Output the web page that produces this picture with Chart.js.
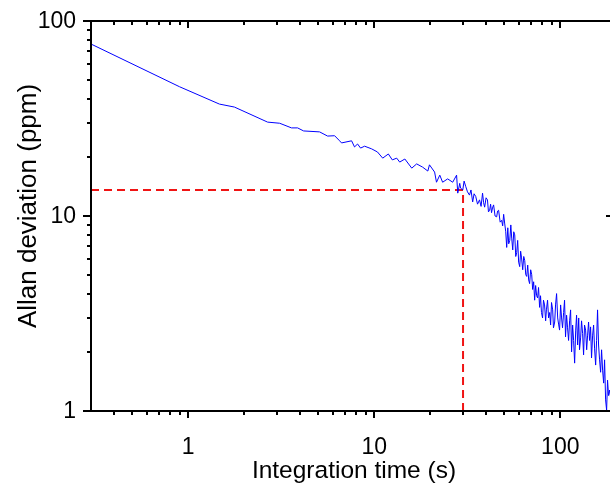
<!DOCTYPE html>
<html>
<head>
<meta charset="utf-8">
<script src="https://cdn.jsdelivr.net/npm/chart.js@4"></script>
<style>
  html, body { margin: 0; padding: 0; background: #fff; overflow: hidden; }
  #wrap { width: 616px; height: 491px; }
</style>
</head>
<body>
<div id="wrap"><canvas id="allan"></canvas></div>
<script>
// --- Data ---
const timeS = [
    0.3, 0.898, 1.47, 1.77, 2.67, 3.10, 3.59, 3.87, 4.17, 5.08,
    5.61, 6.12, 6.51, 6.67, 7.55, 7.83, 8.13, 8.44, 8.87, 9.67,
    10.4, 11.1, 11.9, 12.5, 13.2, 13.7, 14.6, 15.9, 16.9, 18.2,
    19.4, 19.8, 21.1, 21.6, 22.5, 23.3, 24.8, 26.4, 27.7, 28.1,
    28.8, 29.1, 29.9, 30.4, 31.0, 31.7, 32.5, 33.1, 33.8, 34.4,
    35.1, 35.9, 36.8, 37.5, 38.2, 38.7, 39.2, 39.9, 40.6, 41.1,
    41.7, 42.2, 42.7, 43.2, 43.8, 44.6, 45.5, 46.0, 46.6, 47.5,
    48.4, 49.0, 49.6, 50.2, 50.9, 51.5, 52.2, 52.8, 53.5, 54.2,
    54.8, 55.5, 56.2, 56.9, 57.6, 58.3, 59.0, 59.7, 60.5, 61.2,
    61.9, 62.8, 63.6, 64.4, 65.2, 66.0, 66.8, 67.6, 68.4, 69.3,
    70.2, 71.0, 71.9, 72.8, 73.7, 74.6, 75.5, 76.4, 77.4, 78.3,
    79.2, 80.3, 81.2, 82.3, 83.4, 84.2, 85.4, 86.5, 87.7, 88.7,
    89.7, 91.0, 91.9, 93.3, 94.3, 95.5, 96.8, 97.9, 99.1, 100.4,
    101.6, 102.8, 104.2, 105.4, 106.7, 108.1, 109.4, 110.8, 112.2, 113.6,
    115.0, 116.5, 117.9, 119.4, 121.0, 122.3, 123.9, 125.6, 126.9, 128.6,
    130.1, 131.8, 133.4, 135.0, 136.8, 138.6, 140.2, 141.9, 143.6, 145.5,
    147.2, 149.2, 151.0, 152.8, 154.9, 156.7, 158.6, 160.6, 162.6, 164.7,
    166.7, 168.8, 171.0, 173.0, 175.2, 177.4, 179.5, 181.7, 184.1, 188.0,
    192.0
];
const allanPpm = [
    76.2, 46.0, 37.5, 36.2, 30.3, 29.9, 28.3, 28.3, 27.3, 27.0,
    25.7, 25.8, 24.3, 23.7, 24.3, 22.6, 23.4, 22.3, 22.8, 22.1,
    21.3, 19.8, 20.8, 19.4, 19.8, 18.9, 19.6, 17.6, 18.5, 17.8,
    17.0, 18.3, 16.8, 14.9, 16.2, 14.9, 15.5, 14.9, 16.2, 13.1,
    14.7, 13.9, 13.6, 15.1, 14.2, 13.3, 12.8, 13.6, 11.8, 13.0,
    12.6, 11.5, 12.1, 11.2, 13.1, 11.7, 11.1, 12.4, 12.1, 10.5,
    10.7, 11.5, 10.4, 11.0, 11.4, 10.0, 9.9, 10.6, 10.7, 9.3,
    9.5, 8.9, 10.2, 9.2, 8.3, 6.9, 8.7, 7.2, 7.5, 9.0,
    7.7, 6.7, 8.3, 8.0, 6.2, 6.5, 7.5, 5.8, 5.5, 6.6,
    6.1, 5.3, 6.2, 5.9, 5.0, 4.9, 5.6, 4.7, 4.5, 5.3,
    5.0, 4.2, 4.6, 3.7, 4.4, 3.9, 3.8, 4.3, 3.4, 3.9,
    3.2, 3.0, 3.7, 3.5, 2.9, 3.3, 3.7, 3.0, 3.2, 2.76,
    3.6, 3.3, 2.67, 2.86, 3.5, 4.0, 3.0, 2.79, 2.6, 3.5,
    3.0, 2.67, 3.2, 3.7, 2.4, 3.1, 2.67, 2.3, 2.9, 3.3,
    2.01, 2.76, 2.3, 1.76, 2.6, 3.1, 2.18, 3.0, 2.06, 2.37,
    2.9, 2.5, 1.94, 2.76, 2.6, 2.06, 2.45, 2.86, 2.3, 2.70,
    1.87, 2.45, 2.76, 2.1, 1.72, 2.3, 3.3, 2.18, 1.83, 1.58,
    2.06, 1.62, 1.39, 1.83, 1.14, 1.01, 1.44, 1.2, 1.28, 1.1,
    1.3
];

// red guide: horizontal at the cut-off level, then down to the x axis
const cutoffTime = 30;
const cutoffPpm = 13.6;

// axes
const xRange = [0.3, 192];
const yRange = [1, 100];
const xMajorTicks = [1, 10, 100];
const xMinorTicks = [0.4, 0.5, 0.6, 0.7, 0.8, 0.9, 2, 3, 4, 5, 6, 7, 8, 9,
                     20, 30, 40, 50, 60, 70, 80, 90];
const yMajorTicks = [1, 10, 100];
const yMinorTicks = [2, 3, 4, 5, 6, 7, 8, 9, 20, 30, 40, 50, 60, 70, 80, 90];
const xTitle = 'Integration time (s)';
const yTitle = 'Allan deviation (ppm)';

const FONT = "'Liberation Sans', Arial, sans-serif";

// frame, tick marks (outward on left/bottom, inward on top/right), tick labels, axis titles
const frameTicks = {
    id: 'frameTicks',
    afterDraw(chart) {
        const { ctx, chartArea: a, scales: { x, y } } = chart;
        ctx.save();
        ctx.strokeStyle = '#000';
        ctx.lineWidth = 2;
        ctx.lineCap = 'butt';
        ctx.beginPath();
        ctx.moveTo(a.left, a.top); ctx.lineTo(a.right, a.top);
        ctx.moveTo(a.left, a.top - 1); ctx.lineTo(a.left, a.bottom + 1);
        ctx.moveTo(a.left - 1, a.bottom); ctx.lineTo(a.right, a.bottom);
        ctx.moveTo(a.right, a.top); ctx.lineTo(a.right, a.bottom);

        const xTick = (v, out, inn) => {
            const px = Math.round(x.getPixelForValue(v));
            ctx.moveTo(px, a.bottom); ctx.lineTo(px, a.bottom + out);
            ctx.moveTo(px, a.top); ctx.lineTo(px, a.top + inn);
        };
        const yTick = (v, out, inn) => {
            const py = Math.round(y.getPixelForValue(v));
            ctx.moveTo(a.left, py); ctx.lineTo(a.left - out, py);
            ctx.moveTo(a.right, py); ctx.lineTo(a.right - inn, py);
        };
        xMajorTicks.forEach(v => xTick(v, 7, 7));
        xMinorTicks.forEach(v => xTick(v, 4, 4));
        yMajorTicks.forEach(v => yTick(v, 8, 7));
        yMinorTicks.forEach(v => yTick(v, 4, 3));
        ctx.stroke();

        ctx.fillStyle = '#000';
        ctx.textBaseline = 'middle';
        ctx.font = '23px ' + FONT;
        ctx.textAlign = 'center';
        xMajorTicks.forEach(v => ctx.fillText(String(v), x.getPixelForValue(v), 448));
        ctx.textAlign = 'right';
        yMajorTicks.forEach(v => ctx.fillText(String(v), 76, y.getPixelForValue(v) + 1));

        ctx.textAlign = 'center';
        ctx.font = '24.5px ' + FONT;
        ctx.fillText(xTitle, 354, 471);

        ctx.translate(29, 206);
        ctx.rotate(-Math.PI / 2);
        ctx.font = '26px ' + FONT;
        ctx.fillText(yTitle, 0, 0);
        ctx.restore();
    }
};

new Chart(document.getElementById('allan'), {
    type: 'line',
    data: {
        datasets: [
            {
                label: 'Allan deviation',
                data: timeS.map((t, i) => ({ x: t, y: allanPpm[i] })),
                borderColor: 'rgb(0, 0, 255)',
                borderWidth: 1,
                pointRadius: 0,
                tension: 0,
                order: 1
            },
            {
                label: 'cut-off',
                data: [
                    { x: xRange[0], y: cutoffPpm },
                    { x: cutoffTime, y: cutoffPpm },
                    { x: cutoffTime, y: yRange[0] }
                ],
                borderColor: 'rgb(240, 20, 20)',
                borderWidth: 2,
                borderDash: [8, 5],
                pointRadius: 0,
                order: 2
            }
        ]
    },
    options: {
        responsive: true,
        maintainAspectRatio: false,
        animation: false,
        layout: { padding: { top: 21, right: 3, left: 0, bottom: 0 } },
        plugins: {
            legend: { display: false },
            tooltip: { enabled: false }
        },
        scales: {
            x: {
                type: 'logarithmic',
                min: xRange[0],
                max: xRange[1],
                border: { display: false },
                grid: { display: false, drawTicks: false },
                afterBuildTicks: s => { s.ticks = xMajorTicks.map(v => ({ value: v })); },
                afterFit: s => { s.height = 80; },
                ticks: { display: false }
            },
            y: {
                type: 'logarithmic',
                min: yRange[0],
                max: yRange[1],
                border: { display: false },
                grid: { display: false, drawTicks: false },
                afterBuildTicks: s => { s.ticks = yMajorTicks.map(v => ({ value: v })); },
                afterFit: s => { s.width = 91; },
                ticks: { display: false }
            }
        }
    },
    plugins: [frameTicks]
});
</script>
</body>
</html>
